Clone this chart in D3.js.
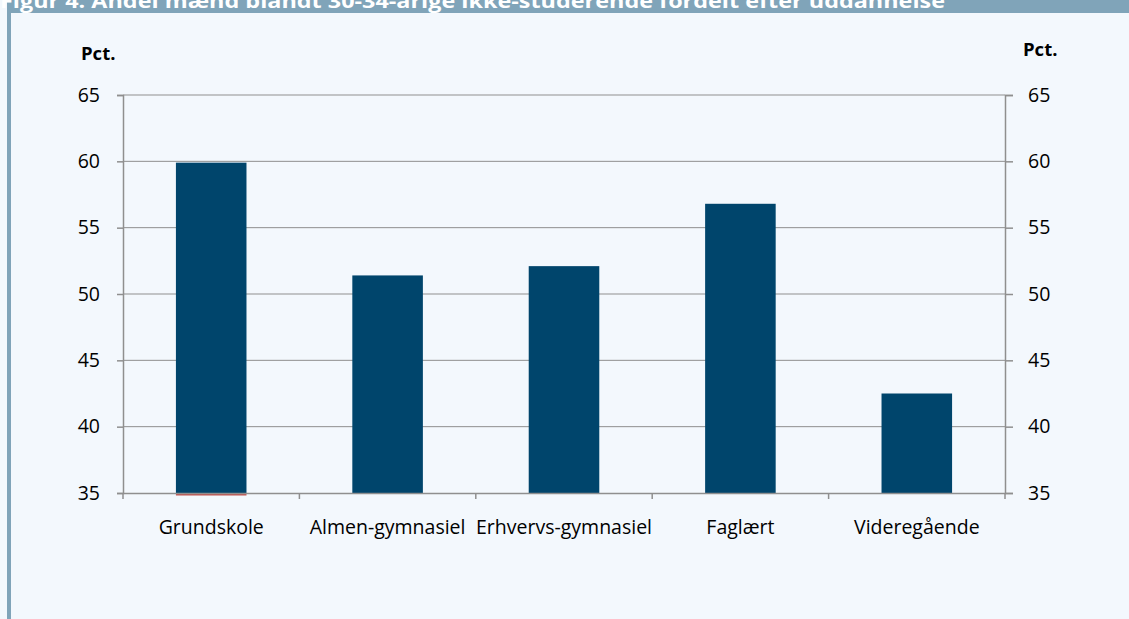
<!doctype html>
<html>
<head>
<meta charset="utf-8"/>
<title>Figur 4</title>
<script src="https://d3js.org/d3.v7.min.js"></script>
<style>
  body { margin: 0; background: #ffffff; }
  text { font-family: "Open Sans", Lato, sans-serif; }
</style>
</head>
<body>
<div id="chart"></div>
<script>
// data
var kategorier = ["Grundskole", "Almen-gymnasiel", "Erhvervs-gymnasiel", "Faglært", "Videregående"];
var andel = [59.9, 51.4, 52.1, 56.8, 42.5];
var yTicks = [35, 40, 45, 50, 55, 60, 65];
var titel = "Figur 4. Andel mænd blandt 30-34-årige ikke-studerende fordelt efter uddannelse";

var W = 1129, H = 619;
var svg = d3.select("#chart").append("svg")
    .attr("width", W)
    .attr("height", H);

// baggrund og ramme
svg.append("rect").attr("x", 0).attr("y", 0).attr("width", W).attr("height", H).attr("fill", "#f3f8fd");
svg.append("rect").attr("x", 7).attr("y", 0).attr("width", W - 7).attr("height", 13).attr("fill", "#80a4b9");
svg.append("rect").attr("x", 7).attr("y", 13).attr("width", 4).attr("height", H - 13).attr("fill", "#80a4b9");

svg.append("text")
    .attr("x", 0).attr("y", 8)
    .attr("fill", "#ffffff")
    .attr("font-weight", "bold")
    .attr("font-size", 20)
    .attr("textLength", 945)
    .attr("lengthAdjust", "spacingAndGlyphs")
    .text(titel);

var pLeft = 123, pRight = 1005, pTop = 95, pBottom = 493;

var x = d3.scaleBand().domain(kategorier).range([pLeft, pRight]).padding(0);
var y = d3.scaleLinear().domain([35, 65]).range([pBottom, pTop]);

// gitterlinjer
svg.append("g").selectAll("line")
    .data(yTicks.filter(function(d){ return d > 35; }))
    .enter().append("line")
    .attr("x1", pLeft).attr("x2", pRight)
    .attr("y1", function(d){ return y(d); })
    .attr("y2", function(d){ return y(d); })
    .attr("stroke", "#8f8f8f")
    .attr("stroke-width", 1);

// søjler
var bw = x.bandwidth() * 0.4;
svg.append("g").selectAll("rect")
    .data(andel)
    .enter().append("rect")
    .attr("x", function(d, i){ return x(kategorier[i]) + (x.bandwidth() - bw) / 2; })
    .attr("y", function(d){ return y(d); })
    .attr("width", bw)
    .attr("height", function(d){ return y(35) - y(d); })
    .attr("fill", "#00456c");

// lille rød streg under første søjle
svg.append("line")
    .attr("x1", x(kategorier[0]) + (x.bandwidth() - bw) / 2)
    .attr("x2", x(kategorier[0]) + (x.bandwidth() + bw) / 2)
    .attr("y1", pBottom + 1.5).attr("y2", pBottom + 1.5)
    .attr("stroke", "#c0504d").attr("stroke-width", 2);

// venstre akse
var yl = svg.append("g").attr("transform", "translate(" + pLeft + ",0)")
    .call(d3.axisLeft(y).tickValues(yTicks).tickSize(6).tickPadding(17));
// højre akse
var yr = svg.append("g").attr("transform", "translate(" + pRight + ",0)")
    .call(d3.axisRight(y).tickValues(yTicks).tickSize(8).tickPadding(15));
// x akse
var xa = svg.append("g").attr("transform", "translate(0," + pBottom + ")")
    .call(d3.axisBottom(x).tickSize(0).tickPadding(27));

// ticks mellem kategorier
svg.append("g").selectAll("line")
    .data(d3.range(kategorier.length + 1))
    .enter().append("line")
    .attr("x1", function(i){ return pLeft + i * x.step(); })
    .attr("x2", function(i){ return pLeft + i * x.step(); })
    .attr("y1", pBottom).attr("y2", pBottom + 6)
    .attr("stroke", "#8f8f8f").attr("stroke-width", 1.5);

[yl, yr, xa].forEach(function(g){
  g.select(".domain").attr("stroke", "#8f8f8f").attr("stroke-width", 1.5);
  g.selectAll(".tick line").attr("stroke", "#8f8f8f").attr("stroke-width", 1.5);
  g.selectAll(".tick text")
    .attr("fill", "#000000")
    .attr("font-family", "'Open Sans', Lato, sans-serif");
});
yl.selectAll(".tick text").attr("font-size", 19.5);
yr.selectAll(".tick text").attr("font-size", 19.5);
xa.selectAll(".tick text").attr("font-size", 19.5);

// enhedsetiketter
svg.append("text").attr("x", 81).attr("y", 60)
    .attr("font-weight", "bold").attr("font-size", 18.5).text("Pct.");
svg.append("text").attr("x", 1023).attr("y", 56)
    .attr("font-weight", "bold").attr("font-size", 18.5).text("Pct.");
</script>
</body>
</html>
